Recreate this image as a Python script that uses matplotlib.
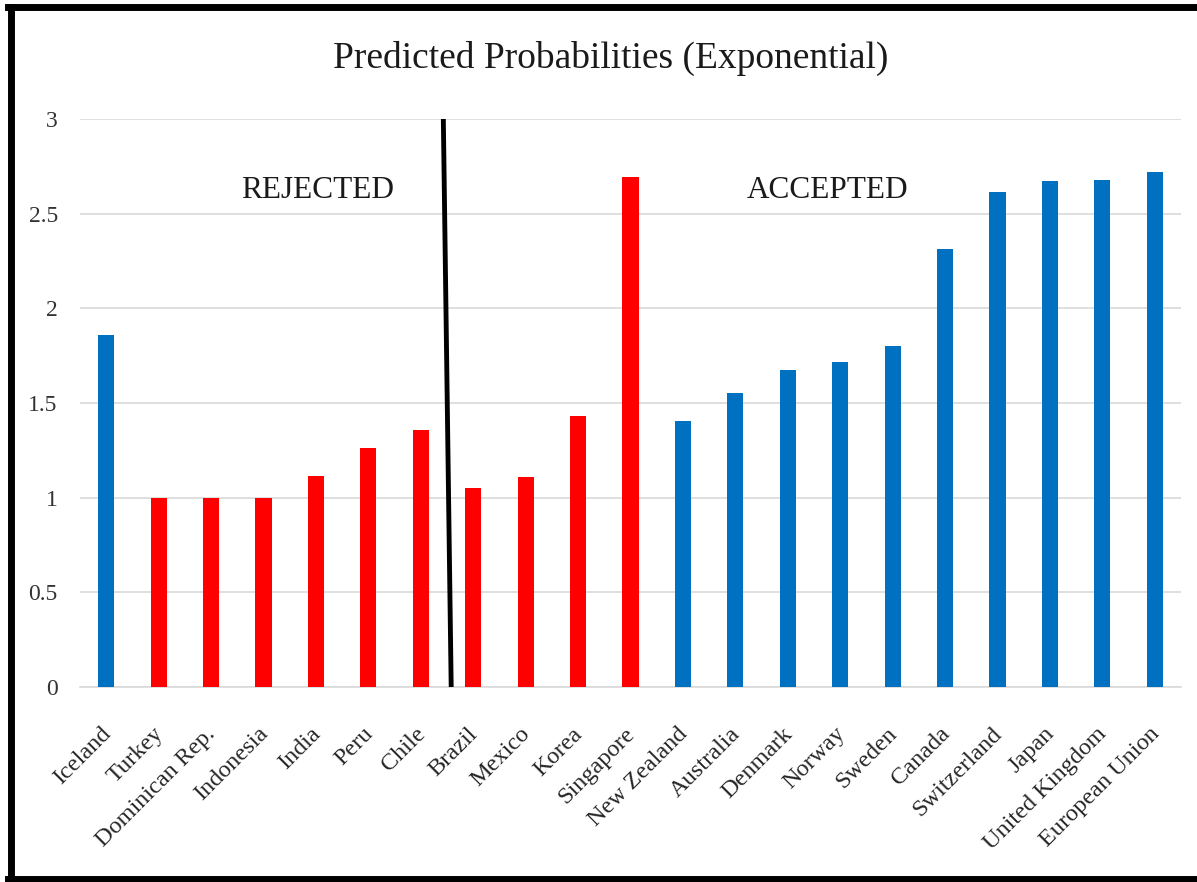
import matplotlib
matplotlib.use("Agg")
import matplotlib.pyplot as plt
import matplotlib.transforms as mtransforms
from matplotlib.lines import Line2D

countries = ["Iceland", "Turkey", "Dominican Rep.", "Indonesia", "India", "Peru", "Chile",
             "Brazil", "Mexico", "Korea", "Singapore", "New Zealand", "Australia", "Denmark",
             "Norway", "Sweden", "Canada", "Switzerland", "Japan", "United Kingdom", "European Union"]
values = [1.86, 1.0, 1.0, 1.0, 1.115, 1.26, 1.358, 1.05, 1.107, 1.43, 2.695,
          1.405, 1.555, 1.675, 1.715, 1.80, 2.315, 2.615, 2.675, 2.68, 2.72]
status = ["A", "R", "R", "R", "R", "R", "R", "R", "R", "R", "R",
          "A", "A", "A", "A", "A", "A", "A", "A", "A", "A"]
yticks = [0, 0.5, 1, 1.5, 2, 2.5, 3]
ytick_labels = ["0", "0.5", "1", "1.5", "2", "2.5", "3"]

RED = "#FF0000"
BLUE = "#0070C0"
colors = [BLUE if s == "A" else RED for s in status]

plt.rcParams['font.family'] = ['Liberation Serif', 'DejaVu Serif']

fig = plt.figure(figsize=(11.97, 8.82), dpi=100)
ax = fig.add_axes([80/1197, 1-687/882, 1101/1197, (687-119)/882])

x = list(range(len(countries)))
ax.bar(x, values, width=0.31, color=colors, zorder=3)
ax.set_xlim(-0.5, len(countries) - 0.5)
ax.set_ylim(0, 3)
ax.set_yticks(yticks)
ax.set_yticklabels(ytick_labels, fontsize=17, color="#333333")
ax.yaxis.grid(True, color="#d9d9d9", linewidth=1.2, zorder=0)
ax.set_axisbelow(True)
for s in ["top", "right", "left"]:
    ax.spines[s].set_visible(False)
ax.spines["bottom"].set_color("#d9d9d9")
ax.spines["bottom"].set_linewidth(1.2)
ax.tick_params(axis="both", length=0)
ax.tick_params(axis="y", pad=16)
ax.set_xticks(x)
ax.set_xticklabels(countries, rotation=45, ha="right", rotation_mode="anchor",
                   fontsize=17.5, color="#262626")
ax.tick_params(axis="x", pad=24)
offset = mtransforms.ScaledTranslation(-6/100, -3/100, fig.dpi_scale_trans)
for lbl in ax.get_xticklabels():
    lbl.set_transform(lbl.get_transform() + offset)

# divider line
ax.plot([6.43, 6.58], [3.0, 0.0], color="black", linewidth=3.5, zorder=5, clip_on=False,
        solid_capstyle="butt")

ax.text(4.04, 2.62, "REJECTED", ha="center", va="center", fontsize=22.5, color="#1a1a1a")
ax.text(13.76, 2.62, "ACCEPTED", ha="center", va="center", fontsize=22.5, color="#1a1a1a")

fig.text(611/1197, 1-58/882, "Predicted Probabilities (Exponential)", ha="center", va="center",
         fontsize=27, color="#1a1a1a")

# frame (left, top, bottom; right edge cropped)
lw = 5
fig.add_artist(Line2D([10.5/1197, 10.5/1197], [1-7/882, 1-879/882], color="black", linewidth=lw,
                      transform=fig.transFigure))
fig.add_artist(Line2D([8/1197, 1.0], [1-7/882, 1-7/882], color="black", linewidth=lw,
                      transform=fig.transFigure))
fig.add_artist(Line2D([8/1197, 1.0], [1-879/882, 1-879/882], color="black", linewidth=lw,
                      transform=fig.transFigure))

fig.savefig("out.png", dpi=100, facecolor="white")
